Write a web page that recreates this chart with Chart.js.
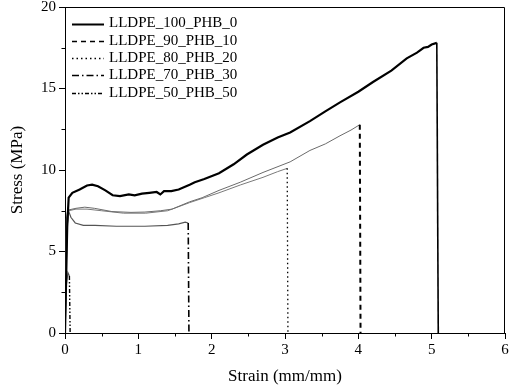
<!doctype html>
<html lang="en">
  <head>
    <meta charset="utf-8">
    <title>Stress-Strain</title>
    <script src="https://cdn.jsdelivr.net/npm/chart.js@4.4.1/dist/chart.umd.min.js"></script>
    <style>
      html, body {
        margin: 0;
        padding: 0;
        background: #fff;
      }
      #wrap {
        width: 510px;
        height: 388px;
        position: relative;
      }
    </style>
  </head>
  <body>
    <div id="wrap"><canvas id="myChart"></canvas></div>
    <script>
      // series names
      const names = ['LLDPE_100_PHB_0', 'LLDPE_90_PHB_10', 'LLDPE_80_PHB_20', 'LLDPE_70_PHB_30', 'LLDPE_50_PHB_50'];

      // strain (mm/mm) / stress (MPa)
      const strain100 = [0, 0.03, 0.05, 0.1, 0.2, 0.3, 0.37, 0.45, 0.55, 0.65, 0.75, 0.87, 0.95, 1.05, 1.15, 1.25, 1.3, 1.35, 1.45, 1.55, 1.7, 1.77, 1.9, 2.1, 2.3, 2.48, 2.7, 2.9, 3.07, 3.34, 3.55, 3.75, 4.0, 4.2, 4.45, 4.66, 4.8, 4.89, 4.95, 5.0, 5.07, 5.09];
      const stress100 = [0, 6.5, 8.3, 8.6, 8.8, 9.05, 9.1, 9.0, 8.75, 8.45, 8.4, 8.5, 8.45, 8.55, 8.6, 8.65, 8.5, 8.7, 8.7, 8.8, 9.1, 9.25, 9.45, 9.8, 10.35, 10.95, 11.55, 12.0, 12.3, 13.0, 13.6, 14.15, 14.8, 15.4, 16.1, 16.85, 17.2, 17.5, 17.55, 17.7, 17.8, 0];

      const strain90 = [0, 0.03, 0.05, 0.15, 0.27, 0.4, 0.64, 0.9, 1.09, 1.3, 1.46, 1.7, 1.87, 2.1, 2.39, 2.7, 3.07, 3.34, 3.55, 3.75, 3.9, 4.02, 4.03];
      const stress90 = [0, 6.5, 7.55, 7.65, 7.72, 7.65, 7.45, 7.4, 7.42, 7.5, 7.6, 8.05, 8.3, 8.75, 9.25, 9.85, 10.5, 11.2, 11.6, 12.1, 12.45, 12.78, 0];

      const strain80 = [0, 0.03, 0.05, 0.15, 0.3, 0.5, 0.8, 1.1, 1.4, 1.7, 1.9, 2.1, 2.39, 2.7, 2.9, 3.03, 3.04];
      const stress80 = [0, 6.5, 7.5, 7.6, 7.6, 7.5, 7.35, 7.35, 7.5, 8.0, 8.3, 8.6, 9.08, 9.55, 9.9, 10.1, 0];

      const strain70 = [0, 0.02, 0.04, 0.08, 0.14, 0.25, 0.41, 0.7, 1.09, 1.4, 1.55, 1.64, 1.68, 1.69];
      const stress70 = [0, 7.0, 7.6, 7.1, 6.75, 6.6, 6.6, 6.55, 6.55, 6.6, 6.7, 6.8, 6.75, 0];

      const strain50 = [0, 0.02, 0.04, 0.06, 0.07];
      const stress50 = [0, 3.0, 3.7, 3.5, 0];

      const xTicks = [0, 1, 2, 3, 4, 5, 6];
      const yTicks = [0, 5, 10, 15, 20];
      const xMinor = [0.5, 1.5, 2.5, 3.5, 4.5, 5.5];
      const yMinor = [2.5, 7.5, 12.5, 17.5];

      const dashes = [[], [5, 4], [1.5, 3], [7, 3, 1.5, 3], [4, 2, 1.5, 2, 1.5, 2]];
      const curveColors = ['#000', '#6b6b6b', '#7a7a7a', '#555', '#555'];
      const curveWidths = [2.2, 1, 1, 1.2, 1.2];
      const dropWidths = [1.6, 2, 1.3, 1.6, 1.4];

      function pts(xs, ys) {
        return xs.map(function(x, i) { return {x: x, y: ys[i]}; });
      }

      const allX = [strain100, strain90, strain80, strain70, strain50];
      const allY = [stress100, stress90, stress80, stress70, stress50];

      const datasets = names.map(function(n, k) {
        const last = allX[k].length - 1;
        return {
          label: n,
          data: pts(allX[k], allY[k]),
          borderColor: curveColors[k],
          borderWidth: curveWidths[k],
          borderDash: dashes[k],
          pointRadius: 0,
          tension: 0,
          fill: false,
          segment: {
            borderDash: function(ctx) { return ctx.p1DataIndex === last ? dashes[k] : []; },
            borderColor: function(ctx) { return ctx.p1DataIndex === last ? '#000' : curveColors[k]; },
            borderWidth: function(ctx) { return ctx.p1DataIndex === last ? dropWidths[k] : curveWidths[k]; }
          }
        };
      });

      const serif = "'Liberation Serif', 'Times New Roman', serif";

      // frame, minor ticks and the legend inside the plot
      const extras = {
        id: 'extras',
        afterDraw(chart) {
          const ctx = chart.ctx;
          const a = chart.chartArea;
          const xs = chart.scales.x, ys = chart.scales.y;
          ctx.save();
          ctx.strokeStyle = '#000';
          ctx.lineWidth = 1;
          ctx.beginPath();
          ctx.moveTo(a.left, a.top + 0.5);
          ctx.lineTo(a.right - 0.5, a.top + 0.5);
          ctx.lineTo(a.right - 0.5, a.bottom);
          ctx.stroke();

          ctx.beginPath();
          xMinor.forEach(function(v) {
            const px = Math.round(xs.getPixelForValue(v)) + 0.5;
            ctx.moveTo(px, a.bottom);
            ctx.lineTo(px, a.bottom + 3.5);
          });
          yMinor.forEach(function(v) {
            const py = Math.round(ys.getPixelForValue(v)) + 0.5;
            ctx.moveTo(a.left, py);
            ctx.lineTo(a.left - 3.5, py);
          });
          ctx.stroke();

          ctx.font = '15px ' + serif;
          ctx.fillStyle = '#000';
          ctx.textBaseline = 'middle';
          names.forEach(function(n, k) {
            const cy = a.top + 16.5 + k * 17.3;
            ctx.beginPath();
            ctx.setLineDash(dashes[k]);
            ctx.lineWidth = k === 0 ? 2 : 1.5;
            ctx.moveTo(a.left + 7, Math.round(cy) + 0.5);
            ctx.lineTo(a.left + 39, Math.round(cy) + 0.5);
            ctx.stroke();
            ctx.setLineDash([]);
            ctx.fillText(n, a.left + 44, cy);
          });
          ctx.restore();
        }
      };

      Chart.defaults.font.family = serif;
      Chart.defaults.color = '#000';

      const myChart = new Chart(document.getElementById('myChart'), {
        type: 'line',
        data: { datasets: datasets },
        options: {
          responsive: true,
          maintainAspectRatio: false,
          animation: false,
          layout: { padding: { top: 7, right: 5, left: 0, bottom: 0 } },
          plugins: {
            legend: { display: false },
            tooltip: { enabled: false }
          },
          scales: {
            x: {
              type: 'linear',
              min: 0,
              max: 6,
              afterBuildTicks: function(scale) { scale.ticks = xTicks.map(function(v) { return {value: v}; }); },
              afterFit: function(scale) {
                scale.height = 55;
                scale.paddingLeft = 0;
                scale.paddingRight = 0;
              },
              ticks: { font: { family: serif, size: 15 }, padding: 2, maxRotation: 0 },
              grid: { drawOnChartArea: false, drawTicks: true, tickLength: 6, tickColor: '#000', tickWidth: 1 },
              border: { display: true, color: '#000', width: 1 },
              title: { display: true, text: 'Strain (mm/mm)', font: { family: serif, size: 17 }, padding: { top: 0, bottom: 1 } }
            },
            y: {
              type: 'linear',
              min: 0,
              max: 20,
              afterBuildTicks: function(scale) { scale.ticks = yTicks.map(function(v) { return {value: v}; }); },
              afterFit: function(scale) {
                scale.width = 65;
                scale.paddingTop = 0;
                scale.paddingBottom = 0;
              },
              ticks: { font: { family: serif, size: 15 }, padding: 3 },
              grid: { drawOnChartArea: false, drawTicks: true, tickLength: 6, tickColor: '#000', tickWidth: 1 },
              border: { display: true, color: '#000', width: 1 },
              title: { display: true, text: 'Stress (MPa)', font: { family: serif, size: 17 }, padding: { top: 7, bottom: 0 } }
            }
          }
        },
        plugins: [extras]
      });
    </script>
  </body>
</html>
